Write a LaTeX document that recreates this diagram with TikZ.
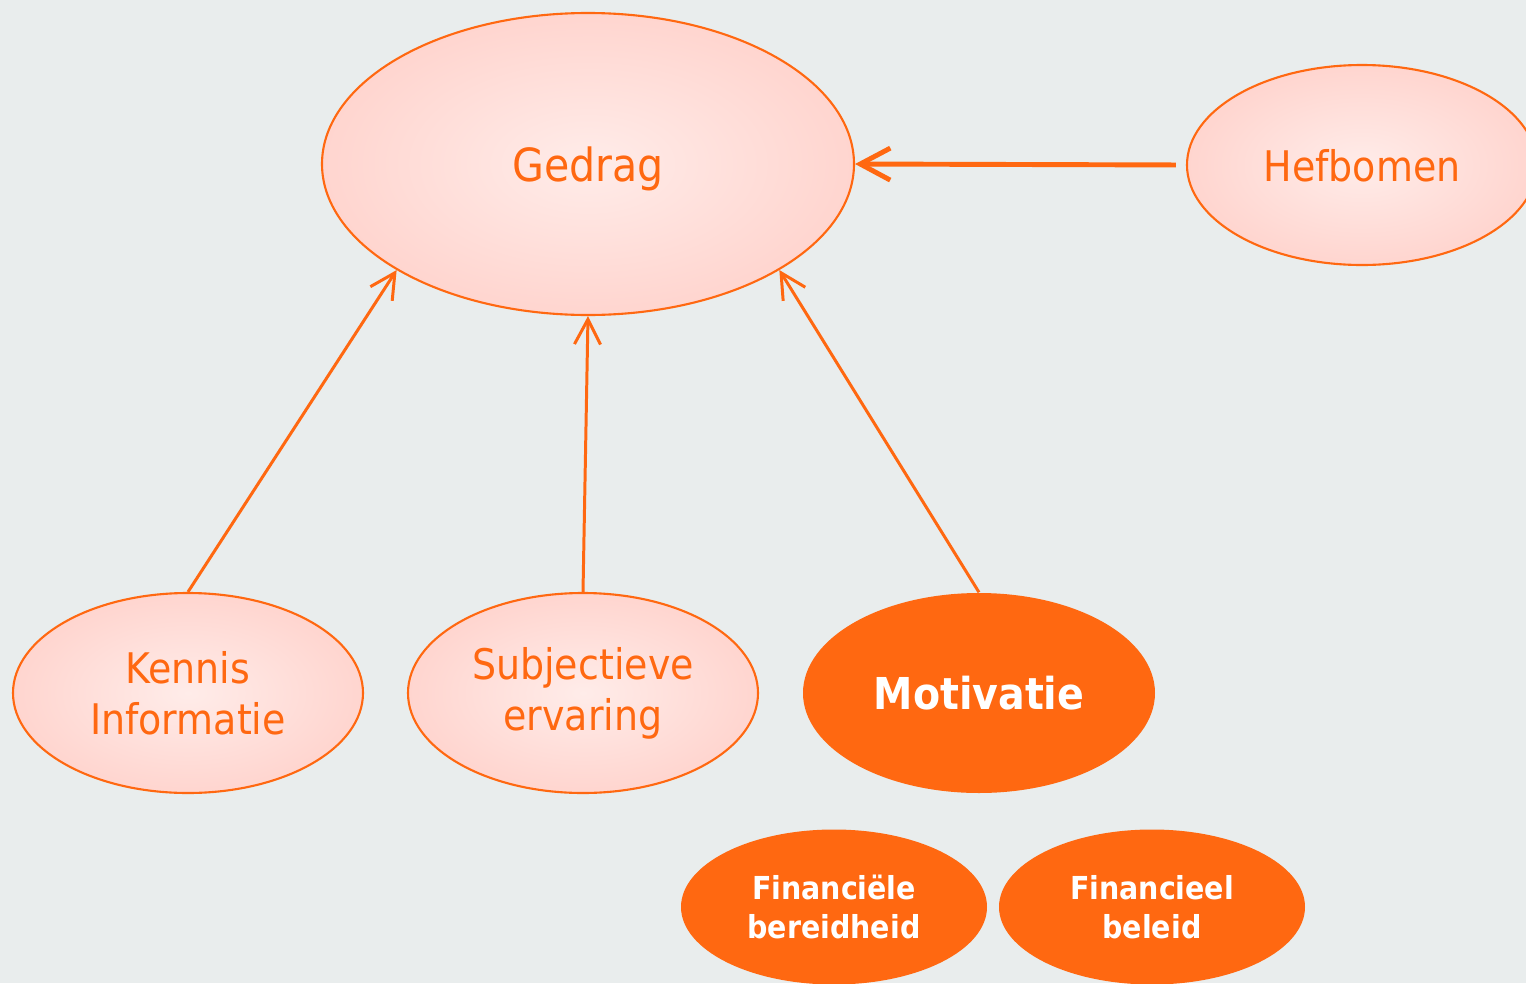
\documentclass[tikz,border=0pt]{standalone}
\usepackage{fontspec}
\setmainfont{DejaVu Sans Condensed}
\usetikzlibrary{shapes.geometric,arrows.meta}

\definecolor{achtergrond}{HTML}{E9EDED}
\definecolor{oranje}{HTML}{FF6811}
\definecolor{roze}{HTML}{FFD5CF}
\definecolor{rozelicht}{HTML}{FFECE9}

\tikzset{
    bubble/.style={ellipse, draw=oranje, line width=0.6pt, inner color=rozelicht, outer color=roze,
        text=oranje, inner sep=0pt, align=center, font=\fontsize{12}{14.5}\selectfont},
    keybubble/.style={ellipse, fill=oranje, text=white, inner sep=0pt, align=center},
    link/.style={draw=oranje, line width=0.85pt, -{Straight Barb[length=0.25cm,width=0.26cm]}},
}

\begin{document}
\begin{tikzpicture}
    \useasboundingbox (0,0) rectangle (15.26,9.83);
    \clip (0,0) rectangle (15.26,9.83);
    \fill[achtergrond] (0,0) rectangle (15.26,9.83);

    % centre
    \node[bubble, minimum width=5.32cm, minimum height=3.02cm, text depth=0pt, font=\fontsize{13}{15}\selectfont] (gedrag) at (5.88,8.19) {Gedrag};
    \node[bubble, minimum width=3.5cm, minimum height=2cm, text depth=0pt] (hefbomen) at (13.62,8.18) {Hefbomen};

    % onderste rij
    \node[bubble, minimum width=3.5cm, minimum height=2cm] (kennis) at (1.88,2.90) {Kennis\\Informatie};
    \node[bubble, minimum width=3.5cm, minimum height=2cm] (ervaring) at (5.83,2.90) {Subjectieve\\ervaring};
    \node[keybubble, minimum width=3.52cm, minimum height=2cm, text depth=0pt, font=\fontsize{12.5}{15}\selectfont\bfseries] (motivatie) at (9.79,2.90) {Motivatie};

    \node[keybubble, minimum width=3.06cm, minimum height=1.55cm, font=\fontsize{9}{11}\selectfont\bfseries] (bereidheid) at (8.34,0.76) {Financiële\\bereidheid};
    \node[keybubble, minimum width=3.06cm, minimum height=1.55cm, font=\fontsize{9}{11}\selectfont\bfseries] (beleid) at (11.52,0.76) {Financieel\\beleid};

    % pijlen
    \draw[link] (kennis.north) -- (gedrag.209.4);
    \draw[link] (ervaring.north) -- (gedrag.south);
    \draw[link] (motivatie.north) -- (gedrag.-29.5);
    \draw[link, line width=1.4pt, shorten <=0.1cm, -{Straight Barb[length=0.3cm,width=0.32cm]}] (hefbomen.west) -- (gedrag.east);
\end{tikzpicture}
\end{document}
